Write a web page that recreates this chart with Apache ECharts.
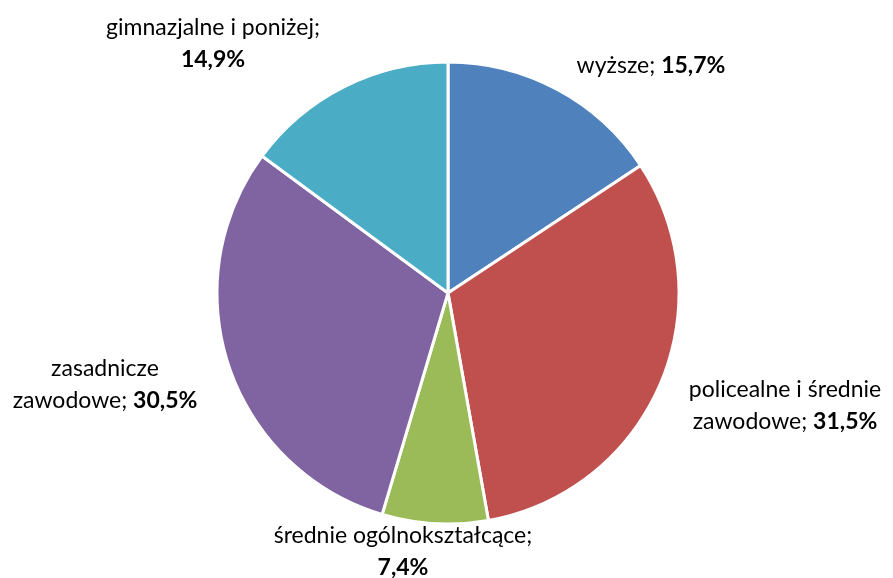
<!DOCTYPE html>
<html>
<head>
<meta charset="utf-8">
<script src="https://cdn.jsdelivr.net/npm/echarts@6/dist/echarts.min.js"></script>
<style>
html,body{margin:0;padding:0;background:#fff;}
#chart{width:893px;height:578px;}
</style>
</head>
<body>
<div id="chart"></div>
<script>
var categories = ['wyższe', 'policealne i średnie zawodowe', 'średnie ogólnokształcące', 'zasadnicze zawodowe', 'gimnazjalne i poniżej'];
var shares = [15.7, 31.5, 7.4, 30.5, 14.9];
var colors = ['#4F81BD', '#C0504D', '#9BBB59', '#8064A2', '#4BACC6'];

// label text split + where the label sits
var labelLines = [
    ['wyższe; ', ''],
    ['policealne i średnie\nzawodowe; ', ''],
    ['średnie ogólnokształcące;\n', ''],
    ['zasadnicze\nzawodowe; ', ''],
    ['gimnazjalne i poniżej;\n', '']
];
var labelPos = [[651, 66], [785, 406], [403, 552], [105, 385], [213, 44]];

var chart = echarts.init(document.getElementById('chart'));
var data = categories.map(function (c, i) {
    return { name: c, value: shares[i], itemStyle: { color: colors[i] } };
});

chart.setOption({
    animation: false,
    series: [{
        type: 'pie',
        center: [448, 293],
        radius: [0, 231],
        startAngle: 90,
        clockwise: true,
        data: data,
        itemStyle: { borderColor: '#fff', borderWidth: 3 },
        labelLine: { show: false },
        label: {
            show: true,
            position: 'outside',
            overflow: 'none',
            fontFamily: 'Lato',
            fontSize: 23,
            color: '#000',
            lineHeight: 32,
            align: 'center',
            formatter: function (p) {
                return labelLines[p.dataIndex][0] + '{b|' + p.value.toFixed(1).replace('.', ',') + '%}';
            },
            rich: {
                b: { fontWeight: 'bold', fontFamily: 'Lato', fontSize: 23, lineHeight: 32, color: '#000' }
            }
        },
        labelLayout: function (p) {
            var pos = labelPos[p.dataIndex];
            return { x: pos[0], y: pos[1], align: 'center', verticalAlign: 'middle' };
        }
    }]
});
</script>
</body>
</html>
